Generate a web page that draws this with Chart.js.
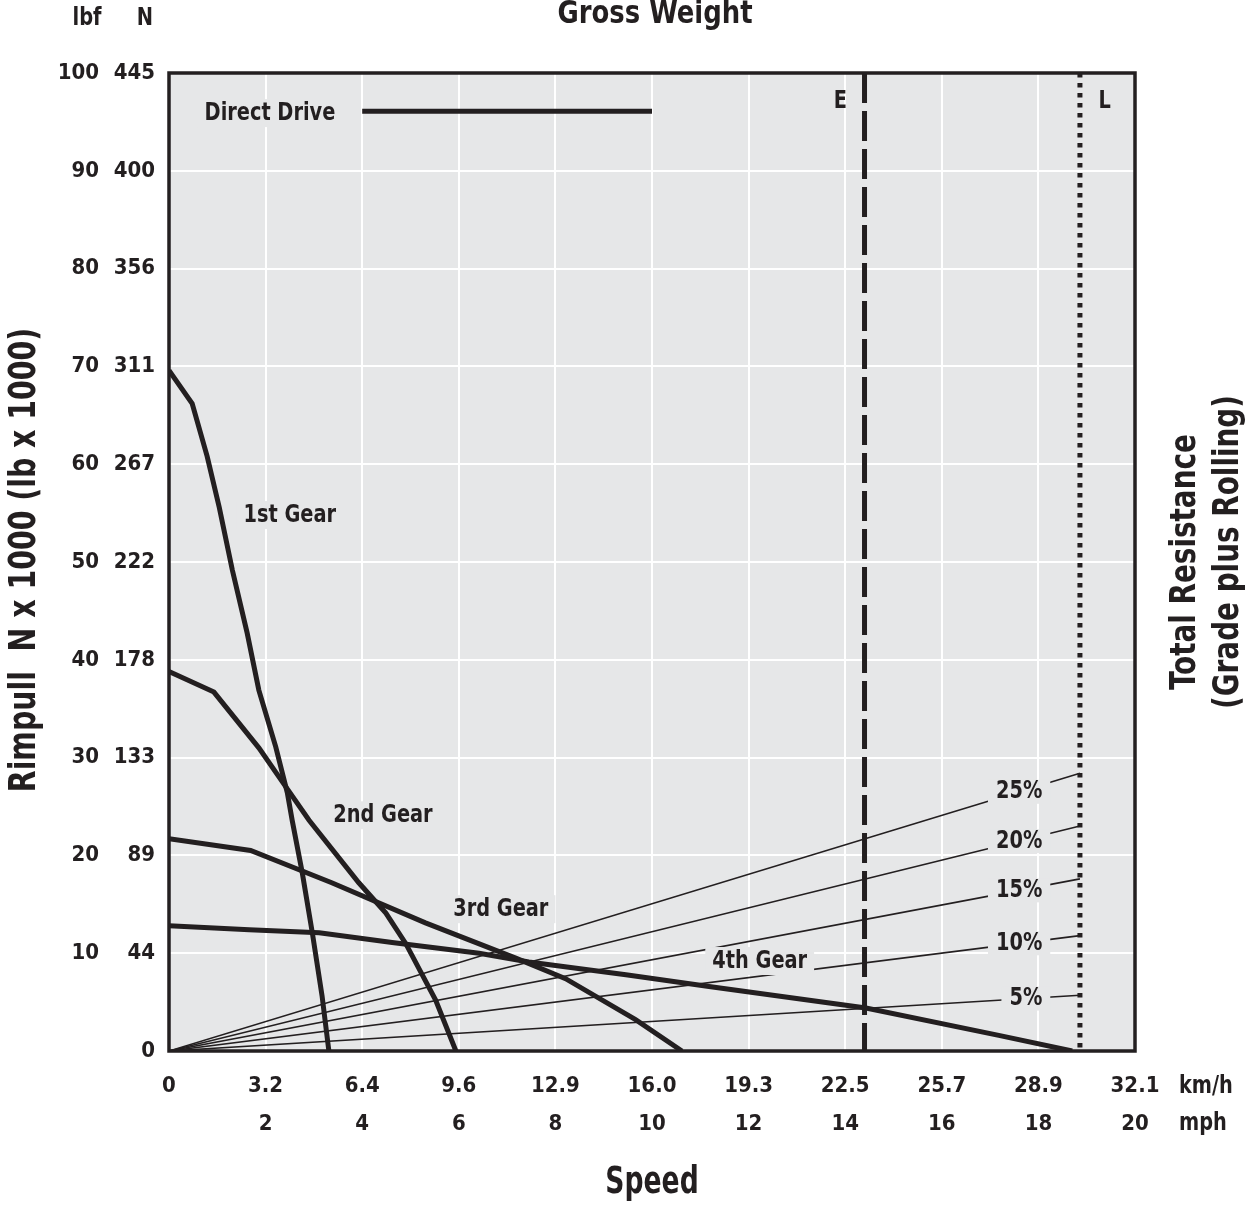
<!DOCTYPE html>
<html>
<head>
<meta charset="utf-8">
<title>Rimpull - Speed - Gradeability</title>
<script src="https://cdn.jsdelivr.net/npm/chart.js@4.4.1/dist/chart.umd.min.js"></script>
<style>
  html, body { margin: 0; padding: 0; background: #fff; }
  #wrap { width: 1256px; height: 1205px; position: relative; }
</style>
</head>
<body>
<div id="wrap"><canvas id="rimpull-chart"></canvas></div>
<script>
// tick labels
const kmhLabels = ['0', '3.2', '6.4', '9.6', '12.9', '16.0', '19.3', '22.5', '25.7', '28.9', '32.1'];
const mphLabels = ['', '2', '4', '6', '8', '10', '12', '14', '16', '18', '20'];
const lbfLabels = ['', '10', '20', '30', '40', '50', '60', '70', '80', '90', '100'];
const newtonLabels = ['0', '44', '89', '133', '178', '222', '267', '311', '356', '400', '445'];

// gear curves: [speed mph, rimpull lb x 1000]
const gear1 = [[0, 69.6], [0.48, 66.2], [0.79, 60.8], [1.04, 55.6], [1.31, 49.2], [1.62, 42.7], [1.86, 36.9], [2.21, 31.1], [2.45, 26.4], [2.55, 23.6], [2.76, 18.2], [2.97, 12.0], [3.17, 5.6], [3.31, 0]];
const gear2 = [[0, 38.8], [0.93, 36.7], [1.86, 31.0], [2.42, 27.0], [2.90, 23.6], [3.93, 17.2], [4.49, 14.1], [4.90, 11.0], [5.52, 5.2], [5.94, 0]];
const gear3 = [[0, 21.7], [1.69, 20.5], [3.37, 17.2], [5.31, 13.1], [7.18, 9.5], [8.21, 7.4], [9.66, 3.2], [10.62, 0]];
const gear4 = [[0, 12.8], [1.66, 12.4], [3.11, 12.1], [4.62, 11.1], [6.42, 10.0], [7.45, 9.1], [9.46, 7.8], [11.18, 6.6], [14.43, 4.4], [17.18, 1.6], [18.70, 0]];
const gearNames = ['1st Gear', '2nd Gear', '3rd Gear', '4th Gear'];

// total resistance lines (grade plus rolling), value reached at loaded weight
const gradeNames = ['5%', '10%', '15%', '20%', '25%'];
const gradePull = [5.7, 11.8, 17.6, 23.0, 28.4];

// empty / loaded gross weight markers (on the speed scale)
const emptyMark = 14.4;
const loadedMark = 18.86;

// direct drive key
const directDrive = [[4, 96.1], [10, 96.1]];

const FONT = "'Liberation Sans Narrow', 'DejaVu Sans Condensed', 'Arial Narrow', sans-serif";
const ink = '#231f20';
const panel = '#e6e7e8';
const SQUEEZE = 0.86;

const toXY = arr => arr.map(p => ({x: p[0], y: p[1]}));

// condensed looking text: squeeze horizontally
function condText(ctx, text, x, y, size, align, sx) {
    ctx.save();
    ctx.translate(x, y);
    ctx.scale(sx || SQUEEZE, 1);
    ctx.font = `bold ${size}px ${FONT}`;
    ctx.textAlign = align;
    ctx.textBaseline = 'middle';
    ctx.fillStyle = ink;
    ctx.fillText(text, 0, 0);
    ctx.restore();
}

function boxedText(ctx, text, x, y, align, padX, padY) {
    ctx.font = `bold 25px ${FONT}`;
    const w = ctx.measureText(text).width * SQUEEZE;
    const left = align === 'center' ? x - w / 2 : (align === 'right' ? x - w : x);
    ctx.fillStyle = panel;
    ctx.fillRect(left - padX, y - padY, w + padX * 2, padY * 2);
    condText(ctx, text, x, y, 25, align);
}

// label anchors in chart units (mph, lb x 1000)
const gearLabelAt = [[2.50, 54.8], [4.43, 24.1], [6.87, 14.5], [12.23, 9.2]];

const rimpullText = {
    id: 'rimpullText',
    beforeDraw(chart) {
        const {ctx, chartArea: a} = chart;
        ctx.save();
        ctx.fillStyle = '#fff';
        ctx.fillRect(0, 0, chart.width, chart.height);
        ctx.fillStyle = panel;
        ctx.fillRect(a.left, a.top, a.right - a.left, a.bottom - a.top);
        ctx.restore();
    },
    afterDatasetsDraw(chart) {
        const {ctx, chartArea: a, scales: {x, y}} = chart;
        ctx.save();

        gearNames.forEach((name, i) => {
            boxedText(ctx, name, x.getPixelForValue(gearLabelAt[i][0]), y.getPixelForValue(gearLabelAt[i][1]), 'center', 7, 14);
        });

        boxedText(ctx, 'Direct Drive', x.getPixelForValue(2.09), y.getPixelForValue(95.9), 'center', 7, 14);

        // grade labels sit on their own line, right edge at 18.08 mph
        const rightX = x.getPixelForValue(18.08);
        gradeNames.forEach((name, i) => {
            ctx.font = `bold 25px ${FONT}`;
            const w = ctx.measureText(name).width * SQUEEZE;
            const mid = x.getValueForPixel(rightX - w / 2);
            const yy = y.getPixelForValue(gradePull[i] * mid / loadedMark);
            boxedText(ctx, name, rightX, yy, 'right', 8, 12);
        });

        condText(ctx, 'E', x.getPixelForValue(13.9), y.getPixelForValue(97.1), 25, 'center');
        condText(ctx, 'L', x.getPixelForValue(19.37), y.getPixelForValue(97.1), 25, 'center');

        ctx.strokeStyle = ink;
        ctx.lineWidth = 3.5;
        ctx.strokeRect(a.left, a.top, a.right - a.left, a.bottom - a.top);
        ctx.restore();
    },
    afterDraw(chart) {
        const {ctx, chartArea: a, scales: {x}} = chart;
        ctx.save();

        condText(ctx, 'lbf', 87, 19, 24, 'center', 0.9);
        condText(ctx, 'N', 145, 19, 24, 'center', 0.9);
        condText(ctx, 'Gross Weight', 655, 15, 32, 'center', 0.9);

        condText(ctx, 'km/h', 1179, 1086, 25, 'left');
        condText(ctx, 'mph', 1179, 1123, 25, 'left');

        condText(ctx, 'Speed', (x.left + x.right) / 2, 1183, 37, 'center', 0.8);

        // rotated axis titles
        ctx.save();
        ctx.translate(25, (a.top + a.bottom) / 2 - 2);
        ctx.rotate(-Math.PI / 2);
        condText(ctx, 'Rimpull  N x 1000 (lb x 1000)', 0, 0, 38, 'center', 0.83);
        ctx.restore();

        ctx.save();
        ctx.translate(1186, 562);
        ctx.rotate(-Math.PI / 2);
        condText(ctx, 'Total Resistance', 0, 0, 36, 'center');
        condText(ctx, '(Grade plus Rolling)', 10, 43, 36, 'center');
        ctx.restore();

        ctx.restore();
    }
};

function d2c_rimpullChart(){
    const rimpullChart = document.getElementById('rimpull-chart');
    const gearSet = (data) => ({
        data: toXY(data),
        borderColor: ink,
        borderWidth: 5,
        borderJoinStyle: 'miter'
    });
    new Chart(rimpullChart, {
        type: 'line',
        data: {
            datasets: [
                gearSet(gear1), gearSet(gear2), gearSet(gear3), gearSet(gear4),
                ...gradeNames.map((g, i) => ({
                    label: g,
                    data: [{x: 0, y: 0}, {x: loadedMark, y: gradePull[i]}],
                    borderColor: ink,
                    borderWidth: 1.6
                })),
                {
                    label: 'E',
                    data: [{x: emptyMark, y: 100}, {x: emptyMark, y: 0}],
                    borderColor: ink,
                    borderWidth: 5,
                    borderDash: [30, 8]
                },
                {
                    label: 'L',
                    data: [{x: loadedMark, y: 100}, {x: loadedMark, y: 0}],
                    borderColor: ink,
                    borderWidth: 5,
                    borderDash: [4.5, 5.5]
                },
                {
                    label: 'Direct Drive',
                    data: toXY(directDrive),
                    borderColor: ink,
                    borderWidth: 5
                }
            ]
        },
        options: {
            responsive: true,
            maintainAspectRatio: false,
            animation: false,
            layout: { padding: { top: 73, right: 121, bottom: 0, left: 0 } },
            elements: { point: { radius: 0 }, line: { tension: 0, fill: false } },
            plugins: { legend: { display: false }, tooltip: { enabled: false } },
            scales: {
                x: {
                    type: 'linear',
                    min: 0, max: 20,
                    afterFit: s => { s.height = 154; },
                    grid: { color: '#ffffff', lineWidth: 2, drawTicks: false },
                    border: { display: false },
                    ticks: {
                        stepSize: 2,
                        autoSkip: false,
                        maxRotation: 0,
                        padding: 16,
                        color: ink,
                        font: { size: 22, weight: 'bold', lineHeight: 1.73 },
                        callback: (v, i) => [kmhLabels[i], mphLabels[i]]
                    }
                },
                y: {
                    type: 'linear',
                    position: 'left',
                    weight: 1,
                    min: 0, max: 100,
                    afterFit: s => { s.width = 69; },
                    grid: { color: '#ffffff', lineWidth: 2, drawTicks: false },
                    border: { display: false },
                    ticks: {
                        stepSize: 10,
                        padding: 14,
                        color: ink,
                        font: { size: 22, weight: 'bold' },
                        callback: (v, i) => newtonLabels[i]
                    }
                },
                yLbf: {
                    type: 'linear',
                    position: 'left',
                    weight: 2,
                    min: 0, max: 100,
                    afterFit: s => { s.width = 100; },
                    grid: { display: false, drawTicks: false },
                    border: { display: false },
                    ticks: {
                        stepSize: 10,
                        padding: 1,
                        color: ink,
                        font: { size: 22, weight: 'bold' },
                        callback: (v, i) => lbfLabels[i]
                    }
                }
            }
        },
        plugins: [rimpullText]
    });
}

Chart.defaults.font.family = FONT;
Chart.defaults.font.weight = 'bold';
Chart.defaults.color = ink;
d2c_rimpullChart();
</script>
</body>
</html>
